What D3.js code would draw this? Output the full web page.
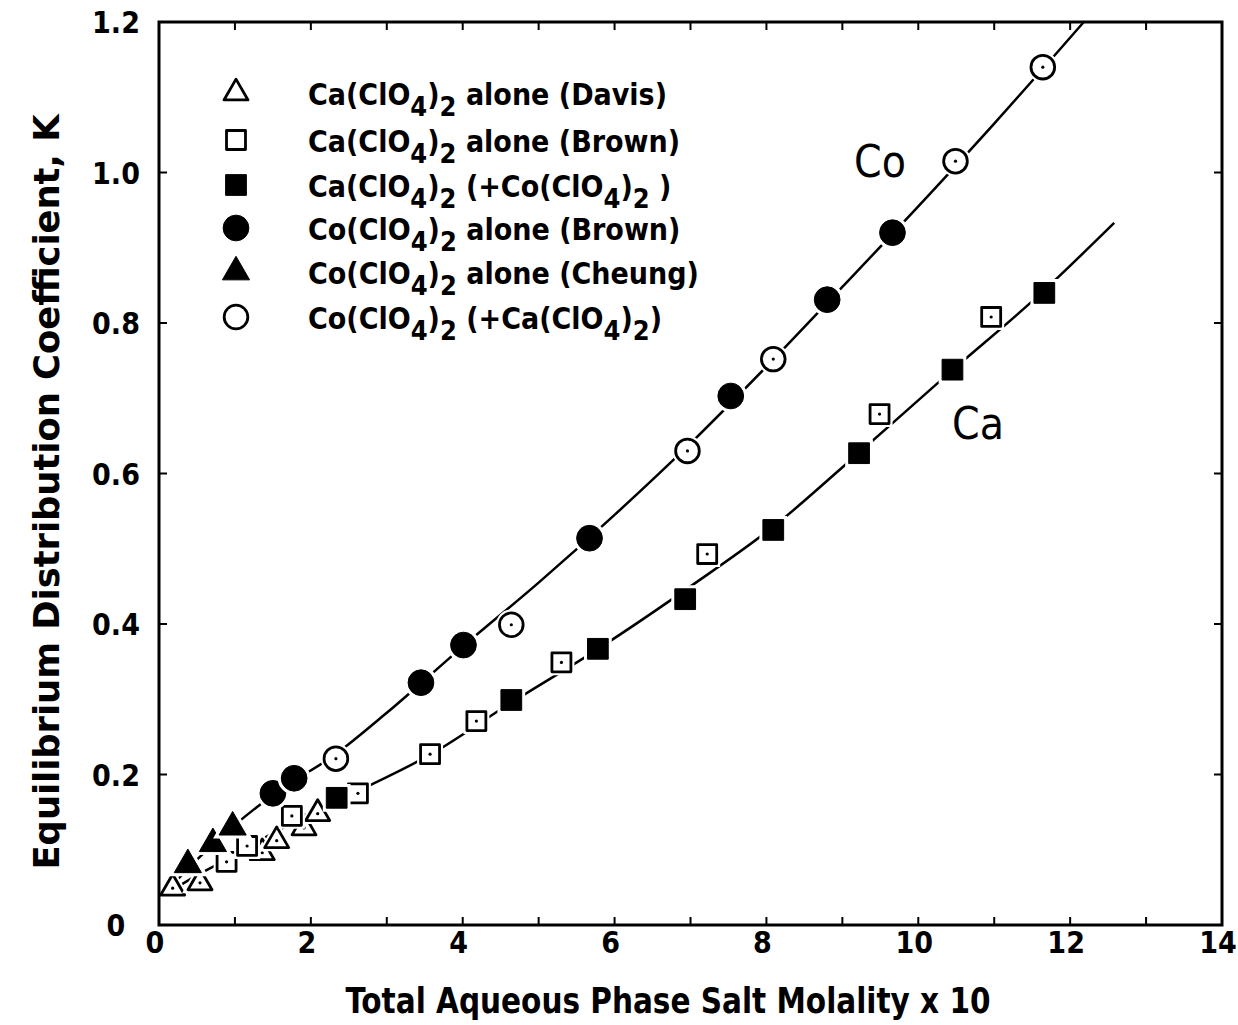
<!DOCTYPE html>
<html>
<head>
<meta charset="utf-8">
<script src="https://cdn.jsdelivr.net/npm/d3@7"></script>
<style>
body { margin: 0; background: #fff; }
text { font-family: "DejaVu Sans Condensed", "DejaVu Sans", sans-serif; fill: #000; }
</style>
</head>
<body>
<script>
// values: x = total aqueous salt molality x 10, y = K
var caDavisX = [0.18, 0.54, 1.36, 1.55, 1.91, 2.09]
var caDavisY = [0.049, 0.056, 0.096, 0.112, 0.129, 0.148]

var caBrownX = [0.89, 1.16, 1.75, 2.62, 3.57, 4.18, 5.30, 7.22, 9.49, 10.96]
var caBrownY = [0.084, 0.105, 0.145, 0.175, 0.227, 0.271, 0.349, 0.493, 0.679, 0.808]

var caMixX = [2.34, 4.64, 5.78, 6.93, 8.09, 9.22, 10.45, 11.66]
var caMixY = [0.169, 0.299, 0.367, 0.433, 0.525, 0.627, 0.738, 0.840]

var coBrownX = [1.50, 1.78, 3.45, 4.01, 5.67, 7.53, 8.80, 9.66]
var coBrownY = [0.175, 0.195, 0.322, 0.372, 0.514, 0.703, 0.831, 0.920]

var coCheungX = [0.38, 0.71, 0.97]
var coCheungY = [0.080, 0.108, 0.130]

var coMixX = [2.33, 4.64, 6.96, 8.09, 10.49, 11.64]
var coMixY = [0.221, 0.399, 0.630, 0.752, 1.015, 1.140]

// hand-drawn smooth curves
var coCurveX = [0.1, 0.5, 1.0, 1.6, 2.3, 3.0, 4.0, 5.0, 6.0, 7.0, 8.0, 9.0, 10.0, 11.0, 12.18]
var coCurveY = [0.045, 0.087, 0.133, 0.180, 0.225, 0.282, 0.370, 0.455, 0.545, 0.640, 0.742, 0.848, 0.955, 1.065, 1.2]
var caCurveX = [0.1, 0.5, 1.0, 1.5, 2.0, 2.6, 3.6, 4.6, 5.8, 7.0, 8.1, 9.2, 10.4, 11.6, 12.58]
var caCurveY = [0.042, 0.066, 0.093, 0.122, 0.148, 0.177, 0.228, 0.293, 0.368, 0.450, 0.530, 0.626, 0.733, 0.838, 0.933]

var xTicks = [0, 2, 4, 6, 8, 10, 12, 14]
var yTicks = [0, 0.2, 0.4, 0.6, 0.8, 1.0, 1.2]
var yTickLabels = ["0", "0.2", "0.4", "0.6", "0.8", "1.0", "1.2"]

var legendLabels = [
  "Ca(ClO_4)_2  alone (Davis)",
  "Ca(ClO_4)_2  alone (Brown)",
  "Ca(ClO_4)_2 (+Co(ClO_4)_2 )",
  "Co(ClO_4)_2  alone (Brown)",
  "Co(ClO_4)_2  alone (Cheung)",
  "Co(ClO_4)_2 (+Ca(ClO_4)_2)"
]

var width = 1238, height = 1025
var pLeft = 159, pRight = 1222, pTop = 22, pBottom = 925

var x = d3.scaleLinear().domain([0, 14]).range([pLeft, pRight])
var y = d3.scaleLinear().domain([0, 1.2]).range([pBottom, pTop])

var svg = d3.select("body").append("svg").attr("width", width).attr("height", height)

// curves
var line = d3.line().x(d => x(d[0])).y(d => y(d[1])).curve(d3.curveMonotoneX)
function pts(xs, ys) { return xs.map((v, i) => [v, ys[i]]) }

svg.append("path").datum(pts(coCurveX, coCurveY)).attr("d", line)
  .attr("fill", "none").attr("stroke", "#000").attr("stroke-width", 2.5)
svg.append("path").datum(pts(caCurveX, caCurveY)).attr("d", line)
  .attr("fill", "none").attr("stroke", "#000").attr("stroke-width", 2.5)

// marker styles
var series = [
  {xs: caDavisX, ys: caDavisY, type: d3.symbolTriangle, size: 250, filled: false},
  {xs: caBrownX, ys: caBrownY, type: d3.symbolSquare, size: 360, filled: false},
  {xs: caMixX, ys: caMixY, type: d3.symbolSquare, size: 430, filled: true},
  {xs: coBrownX, ys: coBrownY, type: d3.symbolCircle, size: 520, filled: true},
  {xs: coCheungX, ys: coCheungY, type: d3.symbolTriangle, size: 320, filled: true},
  {xs: coMixX, ys: coMixY, type: d3.symbolCircle, size: 440, filled: false}
]

function drawMarker(g, s, cx, cy, halo) {
  var sym = d3.symbol().type(s.type).size(s.size)
  if (halo) {
    g.append("path").attr("d", sym).attr("transform", `translate(${cx},${cy})`)
      .attr("fill", "#fff").attr("stroke", "#fff").attr("stroke-width", 7)
  }
  g.append("path").attr("d", sym).attr("transform", `translate(${cx},${cy})`)
    .attr("fill", s.filled ? "#000" : "#fff")
    .attr("stroke", "#000").attr("stroke-width", s.filled ? 1 : 2.8)
    .attr("stroke-linejoin", "round")
  if (!s.filled && halo) {
    g.append("circle").attr("cx", cx).attr("cy", cy).attr("r", 1.6).attr("fill", "#000")
  }
}

var marks = svg.append("g")
series.forEach(s => {
  s.xs.forEach((v, i) => drawMarker(marks, s, x(v), y(s.ys[i]), true))
})

// frame
svg.append("rect").attr("x", pLeft).attr("y", pTop)
  .attr("width", pRight - pLeft).attr("height", pBottom - pTop)
  .attr("fill", "none").attr("stroke", "#000").attr("stroke-width", 3)

// inward ticks
var tickLen = 8
var g = svg.append("g").attr("stroke", "#000").attr("stroke-width", 2)
d3.range(1, 14).forEach(v => {
  g.append("line").attr("x1", x(v)).attr("x2", x(v)).attr("y1", pBottom).attr("y2", pBottom - tickLen)
  g.append("line").attr("x1", x(v)).attr("x2", x(v)).attr("y1", pTop).attr("y2", pTop + tickLen)
})
yTicks.slice(1, -1).forEach(v => {
  g.append("line").attr("y1", y(v)).attr("y2", y(v)).attr("x1", pLeft).attr("x2", pLeft + tickLen)
  g.append("line").attr("y1", y(v)).attr("y2", y(v)).attr("x1", pRight).attr("x2", pRight - tickLen)
})

// tick labels
svg.selectAll(".xl").data(xTicks).enter().append("text")
  .attr("x", d => x(d) - 4).attr("y", 953)
  .attr("text-anchor", "middle").attr("font-size", 30).attr("font-weight", "bold")
  .text(d => d)

svg.selectAll(".yl").data(yTicks).enter().append("text")
  .attr("x", 116).attr("y", d => y(d) + 11)
  .attr("text-anchor", "middle").attr("font-size", 30).attr("font-weight", "bold")
  .text((d, i) => yTickLabels[i])

// axis titles
svg.append("text").attr("x", 668).attr("y", 1013)
  .attr("text-anchor", "middle").attr("font-size", 36).attr("font-weight", "bold")
  .attr("textLength", 645).attr("lengthAdjust", "spacingAndGlyphs")
  .text("Total Aqueous Phase Salt Molality x 10")

svg.append("text").attr("transform", "translate(59,492) rotate(-90)")
  .attr("text-anchor", "middle").attr("font-size", 36).attr("font-weight", "bold")
  .attr("textLength", 755).attr("lengthAdjust", "spacingAndGlyphs")
  .text("Equilibrium Distribution Coefficient, K")

// curve labels
svg.append("text").attr("x", 880).attr("y", 177).attr("text-anchor", "middle")
  .attr("font-size", 44).text("Co")
svg.append("text").attr("x", 978).attr("y", 439).attr("text-anchor", "middle")
  .attr("font-size", 44).text("Ca")

// legend
var legY = [93, 140, 185, 228, 272, 317]
series.forEach((s, i) => {
  drawMarker(svg, s, 236, legY[i], false)
  var t = svg.append("text").attr("x", 308).attr("y", legY[i] + 12)
    .attr("font-size", 30).attr("font-weight", "bold")
  var parts = legendLabels[i].split(/_(\d)/)
  parts.forEach((p, j) => {
    if (j % 2 === 1) {
      t.append("tspan").attr("dy", 11).attr("font-size", 27).text(p)
    } else if (j > 0) {
      t.append("tspan").attr("dy", -11).text(p)
    } else {
      t.append("tspan").text(p)
    }
  })
})
</script>
</body>
</html>
